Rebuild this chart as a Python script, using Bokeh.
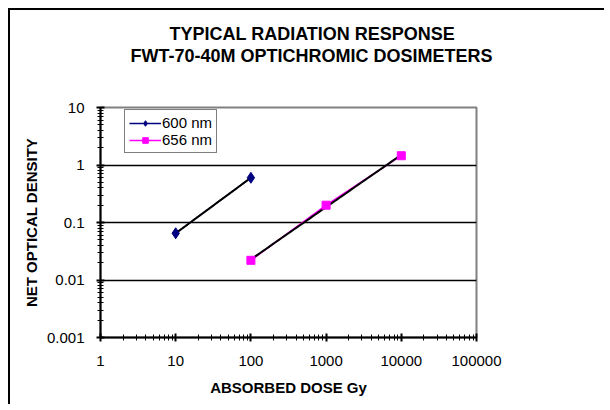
import numpy as np
from bokeh.plotting import figure
from bokeh.models import (Range1d, FixedTicker, CustomJSTickFormatter, Title,
                          Legend)
from bokeh.embed import file_html
from bokeh.resources import INLINE

# ---- data ----
dose_600 = [10, 100]
od_600 = [0.065, 0.6]
dose_656 = [100, 1000, 10000]
od_656 = [0.022, 0.2, 1.45]

x_ticks = [1, 10, 100, 1000, 10000, 100000]
x_tick_labels = ["1", "10", "100", "1000", "10000", "100000"]
y_ticks = [0.001, 0.01, 0.1, 1, 10]
y_tick_labels = ["0.001", "0.01", "0.1", "1", "10"]

title_lines = ["TYPICAL RADIATION RESPONSE", "FWT-70-40M OPTICHROMIC DOSIMETERS"]
x_label = "ABSORBED DOSE Gy"
y_label = "NET OPTICAL DENSITY"

FONT = "Liberation Sans"

p = figure(width=596, height=396, x_axis_type="log", y_axis_type="log",
           x_range=Range1d(x_ticks[0], x_ticks[-1]),
           y_range=Range1d(y_ticks[0], y_ticks[-1]),
           output_backend="svg", toolbar_location=None,
           min_border_left=90, min_border_top=97,
           min_border_right=130, min_border_bottom=69)
p.styles = {"margin-left": "8px", "margin-top": "8px",
            "border-left": "2px solid #000", "border-top": "2px solid #000"}
p.background_fill_color = "white"
p.border_fill_color = "white"
p.outline_line_color = "#808080"
p.outline_line_width = 2

# grids
p.xgrid.visible = False
p.ygrid.ticker = FixedTicker(ticks=y_ticks[1:-1])
p.ygrid.grid_line_color = "#000000"
p.ygrid.grid_line_width = 1.5


def minor(ticks):
    out = []
    for t in ticks[:-1]:
        out += [t * k for k in range(2, 10)]
    return out


def fmt(vals, labels):
    return CustomJSTickFormatter(args=dict(vals=vals, labels=labels), code="""
        const i = vals.findIndex(v => Math.abs(Math.log10(v) - Math.log10(tick)) < 1e-6);
        return i >= 0 ? labels[i] : '';
    """)


for ax, ticks, labels in ((p.xaxis[0], x_ticks, x_tick_labels),
                          (p.yaxis[0], y_ticks, y_tick_labels)):
    ax.ticker = FixedTicker(ticks=ticks, minor_ticks=minor(ticks))
    ax.formatter = fmt(ticks, labels)
    ax.axis_line_color = "#000000"
    ax.axis_line_width = 2
    ax.major_tick_line_color = "#000000"
    ax.major_tick_line_width = 2
    ax.major_tick_in = 4
    ax.major_tick_out = 4
    ax.minor_tick_line_color = "#000000"
    ax.minor_tick_line_width = 1
    ax.minor_tick_in = 3
    ax.minor_tick_out = 3
    ax.major_label_text_font = FONT
    ax.major_label_text_font_size = "15px"
    ax.major_label_text_color = "#000000"
    ax.axis_label_text_font = FONT
    ax.axis_label_text_font_size = "15px"
    ax.axis_label_text_font_style = "bold"
    ax.axis_label_text_color = "#000000"

p.xaxis.axis_label = x_label
p.yaxis.axis_label = y_label
p.xaxis.major_label_standoff = 14
p.yaxis.major_label_standoff = 12
p.xaxis.axis_label_standoff = 10
p.yaxis.axis_label_standoff = 4


# trend lines (power fit in log-log)
def trend(xs, ys):
    lx, ly = np.log10(xs), np.log10(ys)
    a, b = np.polyfit(lx, ly, 1)
    tx = np.logspace(lx.min(), lx.max(), 50)
    return tx, 10 ** (a * np.log10(tx) + b)


r1l = p.line(dose_600, od_600, line_color="#000080", line_width=1.5)
r2l = p.line(dose_656, od_656, line_color="#FF00FF", line_width=1.5)
tx, ty = trend(dose_600, od_600)
p.line(tx, ty, line_color="#000000", line_width=2)
tx, ty = trend(dose_656, od_656)
p.line(tx, ty, line_color="#000000", line_width=2)
r1m = p.scatter(dose_600, od_600, marker="diamond", size=11,
                fill_color="#000080", line_color="#000080")
r2m = p.scatter(dose_656, od_656, marker="square", size=8,
                fill_color="#FF00FF", line_color="#FF00FF")

legend = Legend(items=[("600 nm", [r1l, r1m]), ("656 nm", [r2l, r2m])],
                location=(24, 184))
legend.border_line_color = "#000000"
legend.border_line_width = 1
legend.background_fill_alpha = 1
legend.label_text_font = FONT
legend.label_text_font_size = "15px"
legend.label_text_color = "#000000"
legend.glyph_width = 32
legend.glyph_height = 14
legend.label_height = 14
legend.label_standoff = 1
legend.spacing = 0
legend.padding = 4
legend.margin = 0
p.add_layout(legend)

# title: spacer nearest the frame, then the two lines
p.add_layout(Title(text=" ", standoff=20, text_font=FONT,
                   text_font_size="18px"), "above")
for txt, off in ((title_lines[1], 30), (title_lines[0], 69)):
    p.add_layout(Title(text=txt, align="left", offset=off, standoff=0,
                       text_font=FONT, text_font_size="18px",
                       text_font_style="bold", text_color="#000000"), "above")

open("out.html", "w").write(file_html(p, INLINE))
